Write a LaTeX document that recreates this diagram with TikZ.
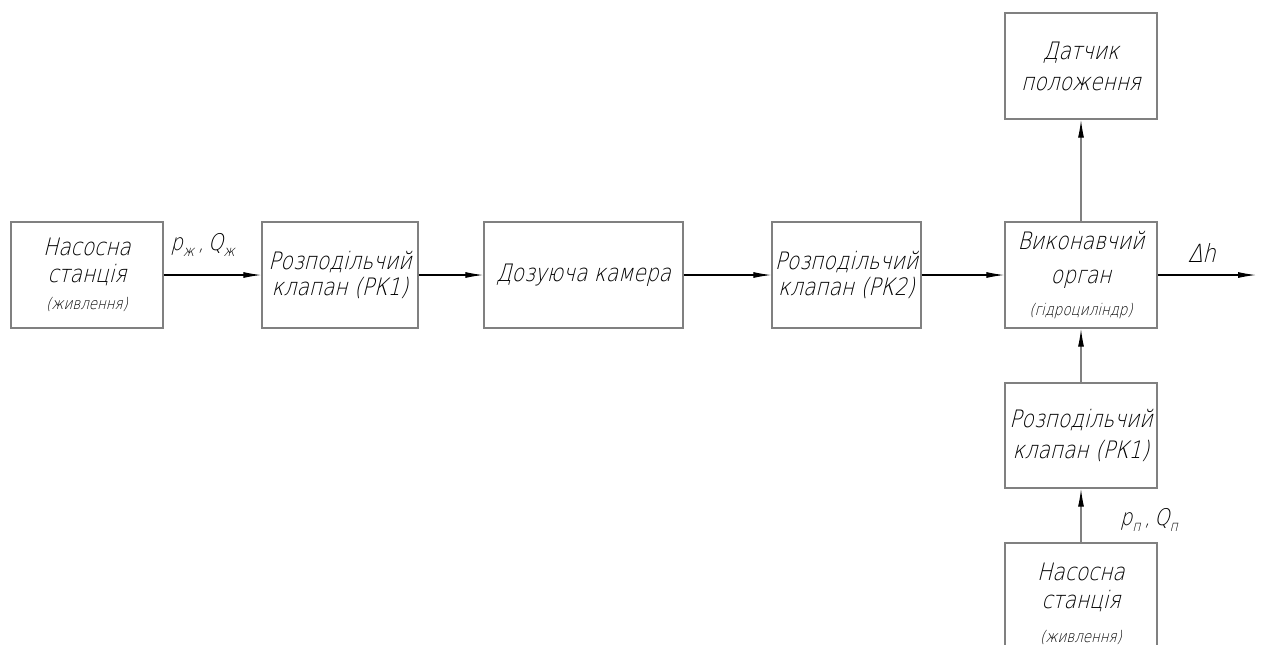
\documentclass[tikz,border=0pt]{standalone}
\usepackage{fontspec}
\setmainfont{DejaVu Sans ExtraLight}[FakeSlant=0.25,FakeStretch=0.84]
\usetikzlibrary{arrows.meta}
\newcommand\mysub[1]{\raisebox{-0.5ex}{\fontsize{7.5}{8}\selectfont #1}}
\newcommand\smalltxt[1]{{\fontsize{8}{8}\selectfont #1}}
\begin{document}
\begin{tikzpicture}[x=0.5pt,y=-0.5pt,
  box/.style={draw=black!50, line width=0.7pt, inner sep=0pt, align=center,
    minimum height=53pt},
  bfont/.style={font=\fontsize{12}{#1}\selectfont},
  arr/.style={line width=0.55pt, -{Latex[length=9pt,width=3pt]}},
  varr/.style={draw=black!50, line width=0.6pt, -{Latex[length=9pt,width=3pt,color=black]}},
  lbl/.style={font=\fontsize{11.5}{12}\selectfont, inner sep=0pt}]
\useasboundingbox (0,0) rectangle (1262,644);
\clip (0,0) rectangle (1262,644);
\fill[white] (0,0) rectangle (1262,644);
\node[box, bfont=13.5pt, minimum width=76pt] (ns1) at (87,275) {Насосна\\станція\\\smalltxt{(живлення)}};
\node[box, bfont=13pt, minimum width=78pt] (rk1) at (340,275) {Розподільчий\\клапан (РК1)};
\node[box, bfont=13pt, minimum width=99.5pt] (dk) at (583.5,275) {Дозуюча камера};
\node[box, bfont=13pt, minimum width=74.5pt] (rk2) at (846.5,275) {Розподільчий\\клапан (РК2)};
\node[box, bfont=17pt, minimum width=76pt] (vo) at (1081,275) {Виконавчий\\орган\\[-1pt]\smalltxt{(гідроциліндр)}};
\node[box, bfont=15.5pt, minimum width=76pt] (dp) at (1081,66) {Датчик\\положення};
\node[box, bfont=15.5pt, minimum width=76pt, minimum height=52.5pt] (rk3) at (1081,435.5) {Розподільчий\\клапан (РК1)};
\node[box, bfont=14pt, minimum width=76pt, minimum height=60pt, text depth=0pt] (ns2) at (1081,603) {Насосна\\станція\\[3pt]\smalltxt{(живлення)}};
\coordinate (out) at (1256,275);
\draw[arr] (ns1) -- node[lbl, pos=0.4, yshift=15pt] {p\mysub{ж}\,,\,Q\mysub{ж}} (rk1);
\draw[arr] (rk1) -- (dk);
\draw[arr] (dk) -- (rk2);
\draw[arr] (rk2) -- (vo);
\draw[arr] (vo) -- node[lbl, pos=0.45, yshift=11pt, font=\fontsize{12.5}{12}\selectfont] {Δh} (out);
\draw[varr] (vo) -- (dp);
\draw[varr] (rk3) -- (vo);
\draw[varr] (ns2) -- node[lbl, pos=0.42, xshift=34pt] {p\mysub{п}\,,\,Q\mysub{п}} (rk3);
\end{tikzpicture}
\end{document}
